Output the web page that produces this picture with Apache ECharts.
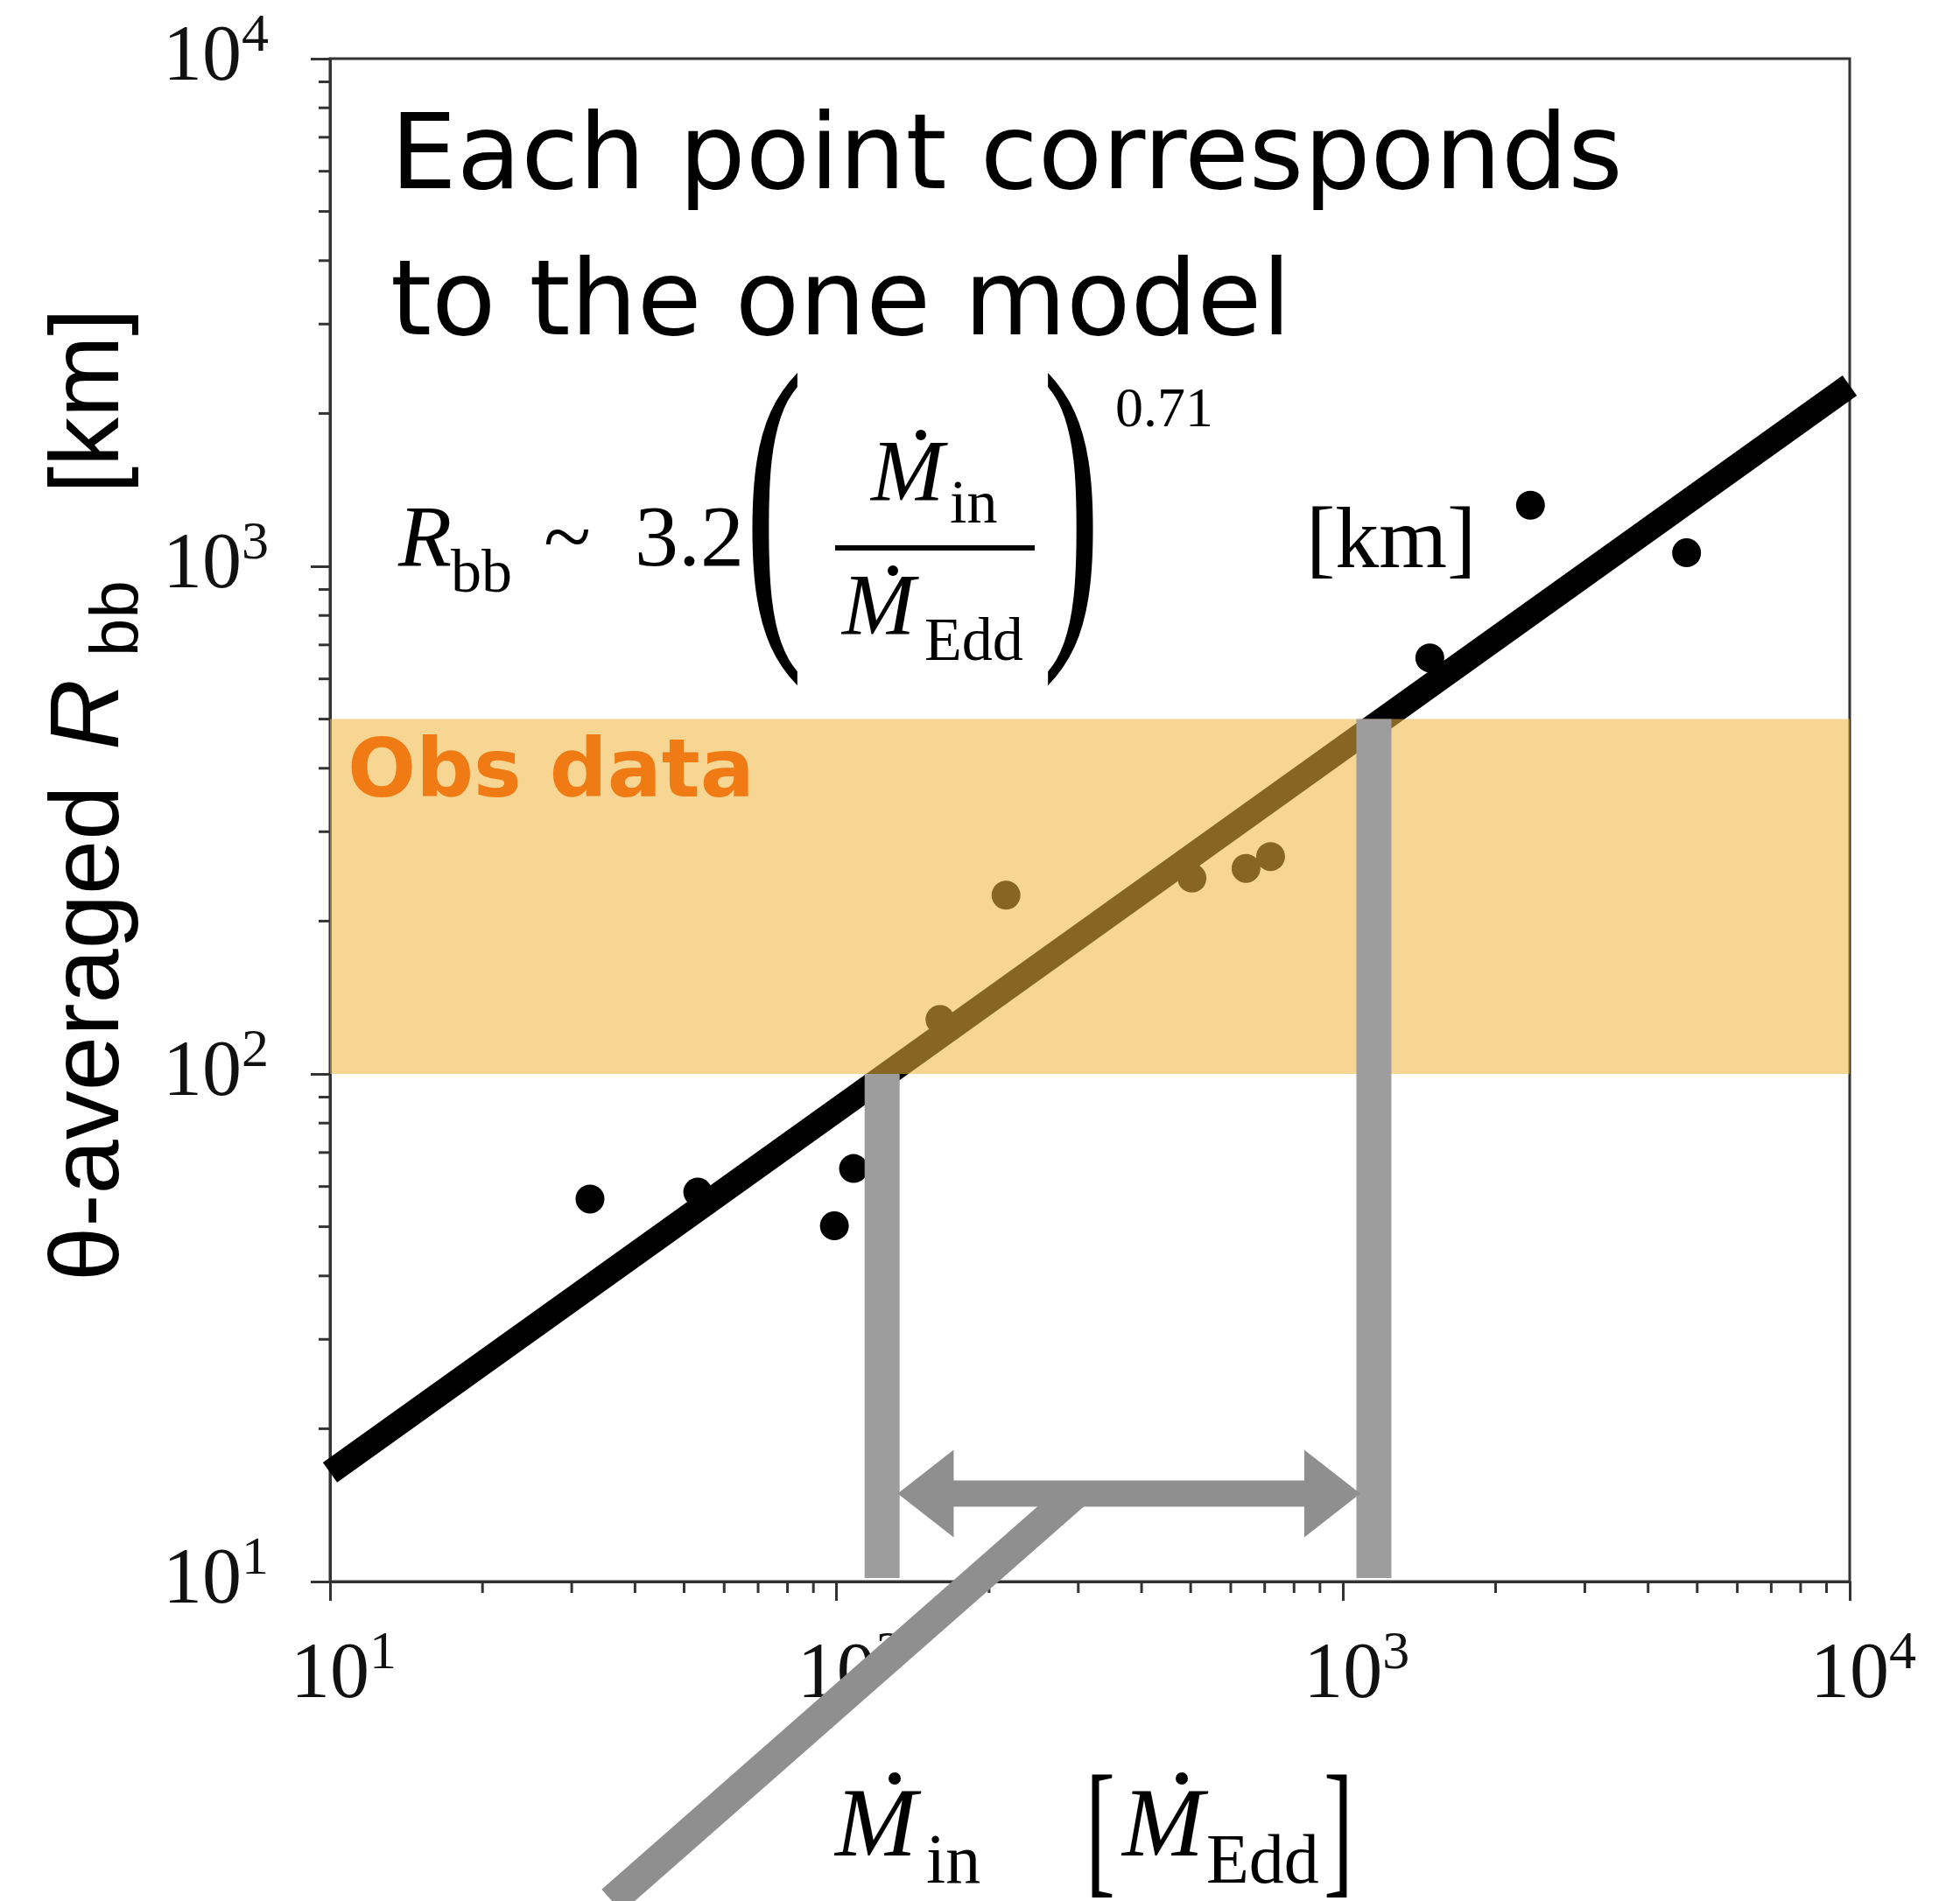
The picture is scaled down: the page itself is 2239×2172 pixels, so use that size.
<!DOCTYPE html>
<html><head><meta charset="utf-8">
<script src="https://cdn.jsdelivr.net/npm/echarts@6/dist/echarts.min.js"></script>
<style>html,body{margin:0;padding:0;background:#fff}#c{width:2239px;height:2172px}</style>
</head><body><div id="c"></div>
<script>
// ---- data ----
const modelMdot = [32.6, 53.2, 108, 99, 160, 216, 503, 643, 719, 1483, 2343, 4764];
const modelRbb  = [56.7, 58.5, 65.1, 50.2, 128, 225, 243, 254, 268, 660, 1319, 1063];
const fitMdot = [10, 10000];
const fitRbb  = [16.4, 2270];
const obsBandR = [100, 500];
const obsBandMdot = [10, 10000];
const rangeBarMdot = [123, 1150];
const rangeBarTop = [100, 500];
const rangeBarBottom = 10;
const arrowMdot = [132, 1081];
const arrowR = 14.9;
const pointerFrom = [296, 14.9];
const pointerTo = [36, 2.35];
const majorTicks = [10, 100, 1000, 10000];
const tickExponents = ['1', '2', '3', '4'];
const minorTicks = [20,30,40,50,60,70,80,90,200,300,400,500,600,700,800,900,2000,3000,4000,5000,6000,7000,8000,9000];

const chart = echarts.init(document.getElementById('c'), null, {renderer: 'canvas'});
const AX = '#333';
const GREY = '#8f8f8f';

function tickLabel(v) {
  const i = majorTicks.indexOf(Math.round(v));
  return i < 0 ? '' : '{b|10}{s|' + tickExponents[i] + '}';
}
const serif = 'Liberation Serif';

function T(text, x, base, size, opts) {
  return Object.assign({type: 'text', x: x, y: base - 0.35 * size, z: 100,
    style: Object.assign({text: text, fontSize: size, fontFamily: serif, fill: '#000',
      align: 'left', verticalAlign: 'middle'}, (opts && opts.style) || {})},
    (opts && opts.el) || {});
}
function dot(cx, cy, r) {
  return {type: 'circle', z: 100, shape: {cx: cx, cy: cy, r: r}, style: {fill: '#000'}};
}
const ital = {style: {fontStyle: 'italic'}};

const graphics = [
  // annotation text
  T('Each point corresponds', 446, 226, 120, {style: {fontFamily: 'DejaVu Sans'}}),
  T('to the one model', 446, 393, 120, {style: {fontFamily: 'DejaVu Sans'}}),
  T('Obs data', 397, 918, 92, {style: {fontFamily: 'DejaVu Sans', fontWeight: 'bold', fill: '#F07A14'}}),
  // formula
  T('R', 455, 655, 100, ital),
  T('bb', 515, 682, 70),
  T('~  3.2', 621, 655, 100),
  T('(', 884, 666, 200, {style: {align: 'center'}, el: {scaleY: 1.97}}),
  T(')', 1224, 666, 200, {style: {align: 'center'}, el: {scaleY: 1.97}}),
  T('M', 995, 580, 100, ital), dot(1052, 497, 6),
  T('in', 1085, 603, 70),
  {type: 'rect', z: 100, shape: {x: 954, y: 623, width: 228, height: 6}, style: {fill: '#000'}},
  T('M', 962, 733, 100, ital), dot(1020, 652, 6),
  T('Edd', 1056, 760, 70),
  T('0.71', 1274, 493, 64),
  T('[km]', 1492, 657, 100),
  // x axis title
  T('M', 954, 2130, 112, ital), dot(1022, 2032, 7),
  T('in', 1058, 2158, 80),
  T('[', 1240, 2160, 170, {el: {scaleX: 0.6}}),
  T('M', 1282, 2130, 112, ital), dot(1350, 2032, 7),
  T('Edd', 1378, 2158, 80),
  T(']', 1512, 2160, 170, {el: {scaleX: 0.6}}),
  // y axis title (rotated)
  {type: 'text', x: 104, y: 1464, rotation: Math.PI / 2, z: 100,
    style: {text: 'θ-averaged', fontSize: 112, fontFamily: 'Liberation Sans', fill: '#000', align: 'left', verticalAlign: 'middle'}},
  {type: 'text', x: 104, y: 857, rotation: Math.PI / 2, z: 100,
    style: {text: 'R', fontSize: 112, fontStyle: 'italic', fontFamily: 'Liberation Sans', fill: '#000', align: 'left', verticalAlign: 'middle'}},
  {type: 'text', x: 136, y: 750, rotation: Math.PI / 2, z: 100,
    style: {text: 'bb', fontSize: 78, fontFamily: 'Liberation Sans', fill: '#000', align: 'left', verticalAlign: 'middle'}},
  {type: 'text', x: 104, y: 564, rotation: Math.PI / 2, z: 100,
    style: {text: '[km]', fontSize: 112, fontFamily: 'Liberation Sans', fill: '#000', align: 'left', verticalAlign: 'middle'}}
];

const axisCommon = {
  type: 'log', logBase: 10, min: 10, max: 10000,
  axisLine: {show: true, lineStyle: {color: AX, width: 3}},
  axisTick: {show: true, inside: false, length: 22, lineStyle: {color: AX, width: 3}},
  splitLine: {show: false}, minorTick: {show: false}
};

const option = {
  animation: false,
  backgroundColor: '#fff',
  grid: {left: 377, top: 67, right: 126, bottom: 365, show: true, borderColor: AX, borderWidth: 3, backgroundColor: 'transparent'},
  xAxis: Object.assign({}, axisCommon, {
    axisLabel: {interval: 0, margin: 52, formatter: tickLabel, color: '#111',
      rich: {b: {fontFamily: serif, fontSize: 90, padding: [0, 0, 0, 31]},
             s: {fontFamily: serif, fontSize: 62, padding: [0, 0, 50, 0]}}}
  }),
  yAxis: Object.assign({}, axisCommon, {
    axisLabel: {interval: 0, margin: 70, formatter: tickLabel, color: '#111',
      rich: {b: {fontFamily: serif, fontSize: 90},
             s: {fontFamily: serif, fontSize: 62, padding: [0, 0, 50, 0]}}}
  }),
  graphic: graphics,
  series: [
    {type: 'line', z: 2, symbol: 'none', clip: true, silent: true,
      data: fitMdot.map((x, i) => [x, fitRbb[i]]),
      lineStyle: {color: '#000', width: 28, cap: 'butt', opacity: 1}},
    {type: 'scatter', z: 3, symbolSize: 33, silent: true,
      data: modelMdot.map((x, i) => [x, modelRbb[i]]),
      itemStyle: {color: '#000', opacity: 1}},
    {type: 'custom', z: 4, silent: true, clip: false,
      data: [[obsBandMdot[0], obsBandR[0], obsBandMdot[1], obsBandR[1]]],
      encode: {x: [0, 2], y: [1, 3]},
      renderItem: function (params, api) {
        const p1 = api.coord([api.value(0), api.value(1)]);
        const p2 = api.coord([api.value(2), api.value(3)]);
        return {type: 'rect', shape: {x: p1[0], y: p2[1], width: p2[0] - p1[0], height: p1[1] - p2[1]},
          style: {fill: 'rgba(241,180,61,0.56)'}};
      }},
    {type: 'custom', z: 5, silent: true, clip: false,
      data: rangeBarMdot.map((x, i) => [x, rangeBarBottom, rangeBarTop[i]]),
      encode: {x: 0, y: [1, 2]},
      renderItem: function (params, api) {
        const pb = api.coord([api.value(0), api.value(1)]);
        const pt = api.coord([api.value(0), api.value(2)]);
        return {type: 'rect', shape: {x: pb[0] - 20, y: pt[1], width: 40, height: pb[1] - pt[1] - 4},
          style: {fill: '#9d9d9d'}};
      }},
    {type: 'custom', z: 6, silent: true, clip: false,
      data: [[arrowMdot[0], arrowMdot[1], arrowR]],
      encode: {x: [0, 1], y: 2},
      renderItem: function (params, api) {
        const a = api.coord([api.value(0), api.value(2)]);
        const b = api.coord([api.value(1), api.value(2)]);
        const hl = 64, hh = 50, st = 15, y = a[1];
        return {type: 'polygon', shape: {points: [
          [a[0], y], [a[0] + hl, y - hh], [a[0] + hl, y - st], [b[0] - hl, y - st], [b[0] - hl, y - hh],
          [b[0], y], [b[0] - hl, y + hh], [b[0] - hl, y + st], [a[0] + hl, y + st], [a[0] + hl, y + hh]]},
          style: {fill: GREY}};
      }},
    {type: 'custom', z: 6, silent: true, clip: false,
      data: [[pointerFrom[0], pointerFrom[1], pointerTo[0], pointerTo[1]]],
      encode: {x: [0, 2], y: [1, 3]},
      renderItem: function (params, api) {
        const a = api.coord([api.value(0), api.value(1)]);
        const b = api.coord([api.value(2), api.value(3)]);
        return {type: 'line', shape: {x1: a[0], y1: a[1], x2: b[0], y2: b[1]},
          style: {stroke: GREY, lineWidth: 35, lineCap: 'butt'}};
      }},
    {type: 'custom', z: 1, silent: true, clip: false,
      data: minorTicks.map(v => [v, 10]),
      encode: {x: 0, y: 1},
      renderItem: function (params, api) {
        const p = api.coord([api.value(0), api.value(1)]);
        return {type: 'line', shape: {x1: p[0], y1: p[1], x2: p[0], y2: p[1] + 13},
          style: {stroke: AX, lineWidth: 3}};
      }},
    {type: 'custom', z: 1, silent: true, clip: false,
      data: minorTicks.map(v => [10, v]),
      encode: {x: 0, y: 1},
      renderItem: function (params, api) {
        const p = api.coord([api.value(0), api.value(1)]);
        return {type: 'line', shape: {x1: p[0], y1: p[1], x2: p[0] - 13, y2: p[1]},
          style: {stroke: AX, lineWidth: 3}};
      }}
  ]
};
chart.setOption(option);
</script>
</body></html>
